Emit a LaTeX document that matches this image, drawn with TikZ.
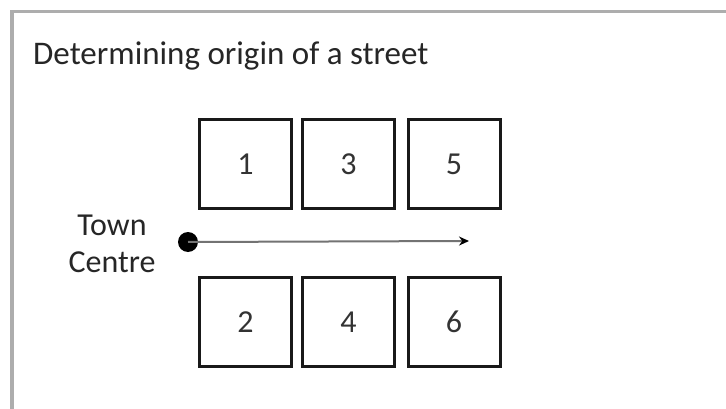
\documentclass[tikz,border=0pt]{standalone}
\usepackage{fontspec}
\setmainfont{Carlito}
\usetikzlibrary{arrows.meta}
\begin{document}
\begin{tikzpicture}[x=1pt,y=-1pt,
  lot/.style={draw=black!90,line width=3pt,minimum width=92pt,minimum height=89pt,inner sep=0pt,font=\fontsize{32}{36}\selectfont,text=black!80},
  frameline/.style={draw=black!32,line width=3.5pt},
  lbl/.style={anchor=base,inner sep=0pt,font=\fontsize{32}{36}\selectfont,text=black!85}]
\useasboundingbox (0,0) rectangle (726,409);
\fill[white] (0,0) rectangle (726,409);
\draw[frameline] (726,11.5) -- (12,11.5) -- (12,409);
\node[anchor=base west,font=\fontsize{33}{36}\selectfont,text=black!85,inner sep=0pt] (title) at (33,65) {Determining origin of a street};
\node[lot] (b1) at (245.5,164) {1};
\node[lot] (b3) at (348.5,164) {3};
\node[lot] (b5) at (454,164) {5};
\node[lot] (b2) at (245.5,322) {2};
\node[lot] (b4) at (348.5,322) {4};
\node[lot] (b6) at (454,322) {6};
\node[lbl] (town) at (112,235) {Town};
\node[lbl] (centre) at (112,272) {Centre};
\node[circle,fill=black,minimum size=20pt,inner sep=0pt] (dot) at (188,242) {};
\coordinate (end) at (469,241);
\draw[black!55,line width=2pt,-{Stealth[length=10pt,width=9pt,black]}] (dot.center) -- (end);
\end{tikzpicture}
\end{document}
